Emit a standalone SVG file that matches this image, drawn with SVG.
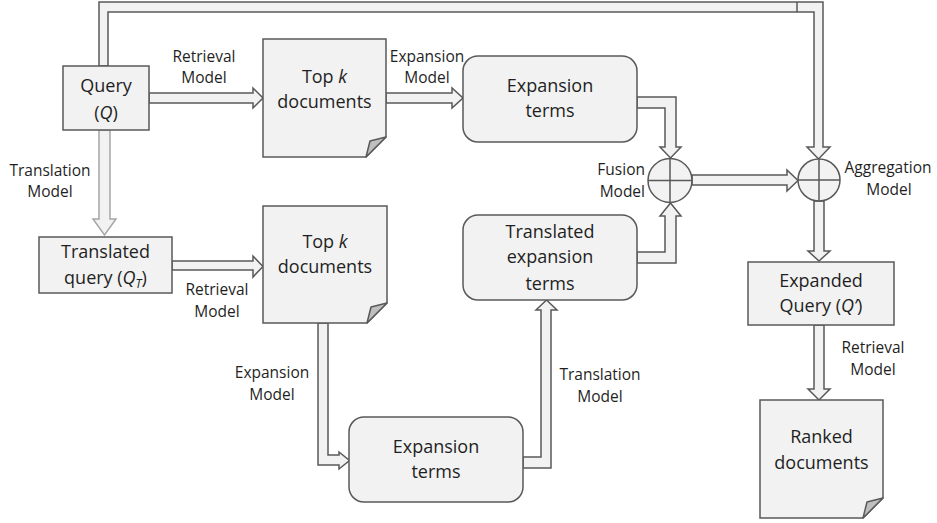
<svg xmlns="http://www.w3.org/2000/svg" width="937" height="523" viewBox="0 0 937 523">
<style>
.box{fill:#f2f2f2;stroke:#595959;stroke-width:1.5}
.fold{fill:#bfbfbf;stroke:#595959;stroke-width:1.5;stroke-linejoin:round}
.pipe{fill:#f2f2f2;stroke:#595959;stroke-width:1.5;stroke-linejoin:miter}
.pipe2{fill:#f2f2f2;stroke:#a6a6a6;stroke-width:1.5}
.ln{stroke:#595959;stroke-width:1.5;fill:none}
text{font-family:"Open Sans","Liberation Sans",sans-serif;fill:#1f1f1f;text-anchor:middle}
.n{font-size:18px}
.l{font-size:15.5px}
.e{text-anchor:end}
</style>
<rect width="937" height="523" fill="#ffffff"/>
<g id="connectors">
<polygon class="pipe" points="99,66 99,2 823,2 823,147 830,147 818.5,159 807,147 814,147 814,12 108,12 108,66"/>
<line class="ln" x1="797" y1="2" x2="797" y2="12"/>
<polygon class="pipe" points="149,93 253,93 253,88 263,98 253,108 253,103 149,103"/>
<polygon class="pipe" points="386,93 452,93 452,88 463,98 452,108 452,103 386,103"/>
<polygon class="pipe" points="637,97 676,97 676,147 681,147 670.5,158 660,147 665,147 665,108 637,108"/>
<polygon class="pipe" points="637,263 676,263 676,216 681,216 670.5,203 660,216 665,216 665,252 637,252"/>
<polygon class="pipe" points="692,175 787,175 787,170 798,180.5 787,191 787,185 692,185"/>
<polygon class="pipe" points="814,201 824,201 824,251 830,251 819,261 808,251 814,251"/>
<polygon class="pipe" points="814,325 824,325 824,389 830,389 819,400 808,389 814,389"/>
<polygon class="pipe2" points="99,130 110,130 110,219 116,219 104.5,235 93,219 99,219"/>
<polygon class="pipe" points="172,261 253,261 253,256 263,266.5 253,277 253,270 172,270"/>
<polygon class="pipe" points="318,323 328,323 328,455 339,455 339,452 349.5,460.5 339,469 339,465 318,465"/>
<polygon class="pipe" points="523,457 541,457 541,310 536,310 546.5,300 557,310 551,310 551,468 523,468"/>
</g>
<g id="label-retrieval-1"><text class="l" x="204" y="62">Retrieval</text><text class="l" x="204" y="83">Model</text></g>
<g id="label-expansion-1"><text class="l" x="427" y="62">Expansion</text><text class="l" x="427" y="83">Model</text></g>
<g id="label-translation-1"><text class="l" x="50" y="176">Translation</text><text class="l" x="50" y="197">Model</text></g>
<g id="label-retrieval-2"><text class="l" x="217" y="295">Retrieval</text><text class="l" x="217" y="317">Model</text></g>
<g id="label-expansion-2"><text class="l" x="272" y="378">Expansion</text><text class="l" x="272" y="400">Model</text></g>
<g id="label-translation-2"><text class="l" x="600" y="380">Translation</text><text class="l" x="600" y="402">Model</text></g>
<g id="label-fusion"><text class="l e" x="645" y="175">Fusion</text><text class="l e" x="645" y="197">Model</text></g>
<g id="label-aggregation"><text class="l" x="888" y="173">Aggregation</text><text class="l" x="889" y="195">Model</text></g>
<g id="label-retrieval-3"><text class="l" x="873" y="353">Retrieval</text><text class="l" x="873" y="375">Model</text></g>
<g id="query">
<rect class="box" x="63" y="66" width="86" height="64"/>
<text class="n" x="106" y="92">Query</text>
<text class="n" x="106" y="119">(<tspan font-style="italic">Q</tspan>)</text>
</g>
<g id="topk-1">
<path class="box" d="M263,39 H386 V137 L366,157 H263 Z"/>
<path class="fold" d="M386,137 L370,141 L366,157 Z"/>
<text class="n" x="324.5" y="83">Top <tspan font-style="italic">k</tspan></text>
<text class="n" x="324.5" y="108">documents</text>
</g>
<g id="expansion-terms-1">
<rect class="box" x="463" y="56" width="174" height="86" rx="15"/>
<text class="n" x="550" y="92">Expansion</text>
<text class="n" x="550" y="117">terms</text>
</g>
<g id="translated-query">
<rect class="box" x="39" y="237" width="133" height="56"/>
<text class="n" x="105.5" y="258">Translated</text>
<text class="n" x="105.5" y="284">query (<tspan font-style="italic">Q</tspan><tspan font-style="italic" font-size="12" dy="4">T</tspan><tspan dy="-4">)</tspan></text>
</g>
<g id="topk-2">
<path class="box" d="M263,206 H387 V303 L367,323 H263 Z"/>
<path class="fold" d="M387,303 L371,307 L367,323 Z"/>
<text class="n" x="325" y="248">Top <tspan font-style="italic">k</tspan></text>
<text class="n" x="325" y="273">documents</text>
</g>
<g id="expansion-terms-2">
<rect class="box" x="349" y="417" width="174" height="85" rx="15"/>
<text class="n" x="436" y="453">Expansion</text>
<text class="n" x="436" y="478">terms</text>
</g>
<g id="translated-expansion-terms">
<rect class="box" x="463" y="215" width="174" height="85" rx="15"/>
<text class="n" x="550" y="238">Translated</text>
<text class="n" x="550" y="263">expansion</text>
<text class="n" x="550" y="290">terms</text>
</g>
<g id="fusion">
<circle class="box" cx="670" cy="180.5" r="22"/>
<line class="ln" x1="648" y1="180.5" x2="692" y2="180.5"/>
<line class="ln" x1="670" y1="158.5" x2="670" y2="202.5"/>
</g>
<g id="aggregation">
<circle class="box" cx="819" cy="180" r="21"/>
<line class="ln" x1="798" y1="180" x2="840" y2="180"/>
<line class="ln" x1="819" y1="159" x2="819" y2="201"/>
</g>
<g id="expanded-query">
<rect class="box" x="748" y="262" width="146" height="63"/>
<text class="n" x="821" y="287">Expanded</text>
<text class="n" x="821" y="312">Query (<tspan font-style="italic">Q’</tspan>)</text>
</g>
<g id="ranked-documents">
<path class="box" d="M760,400 H883 V498 L863,518 H760 Z"/>
<path class="fold" d="M883,498 L867,502 L863,518 Z"/>
<text class="n" x="821.5" y="443">Ranked</text>
<text class="n" x="821.5" y="469">documents</text>
</g>
</svg>
